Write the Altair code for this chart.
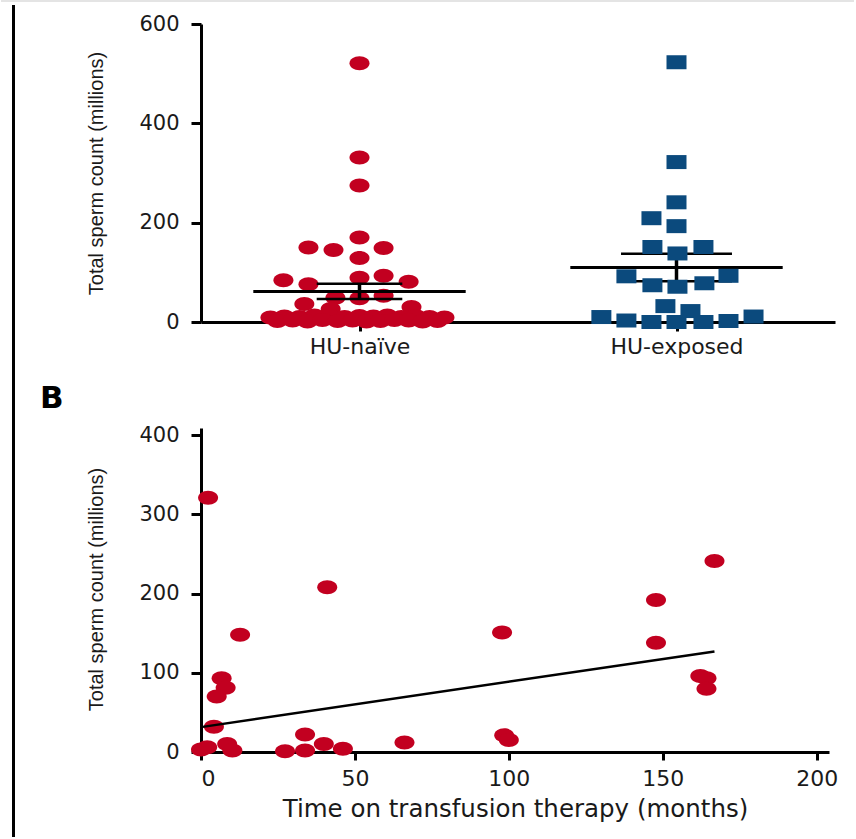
import altair as alt
import pandas as pd

# ---------------- data ----------------
groups = ["HU-naïve", "HU-exposed"]

naive_values = [521, 331, 275, 170,
                150, 145, 149, 129,
                84, 76, 89, 93, 81,
                49, 48, 53,
                36, 26, 30,
                9, 11, 10, 13, 12, 10, 12, 11, 13, 10, 12, 10, 9,
                2, 3, 1, 4, 2, 3, 1, 2, 4, 3, 1, 2]
naive_jitter = [0.0, 0.0, 0.0, 0.0,
                -0.161, -0.082, 0.076, 0.0,
                -0.240, -0.161, 0.0, 0.076, 0.155,
                -0.076, 0.0, 0.076,
                -0.174, -0.091, 0.164,
                -0.281, -0.237, -0.189, -0.142, -0.095, -0.047, 0.0, 0.044, 0.088, 0.132, 0.177, 0.221, 0.268,
                -0.259, -0.211, -0.164, -0.117, -0.069, -0.022, 0.022, 0.066, 0.110, 0.155, 0.199, 0.246]

exposed_values = [523, 322, 241, 209, 193, 151, 151, 138, 92, 93, 74, 71, 78,
                  32, 22, 10, 3, 0, 0, 0, 2, 11]
exposed_jitter = [0.0, 0.0, 0.0, -0.079, 0.0, -0.076, 0.085, 0.003, -0.158, 0.164, -0.076, 0.003, 0.088,
                  -0.035, 0.044, -0.237, -0.158, -0.079, 0.0, 0.085, 0.164, 0.243]

months = [2.3, 41.0, 12.7, 6.7, 8.0, 5.1, 4.2, 33.8, 0.0, 2.0, 8.5, 10.2, 27.3, 33.8, 39.9, 46.1,
          66.1, 97.8, 98.5, 100.0, 147.8, 147.8, 166.8, 162.2, 164.2, 164.2]
counts_b = [321, 208, 148, 93, 81, 70, 32, 22, 3, 6, 10, 2, 1, 2, 10, 4,
            12, 151, 21, 15, 192, 138, 241, 96, 93, 80]

fit_months = [0.0, 166.8]
fit_counts = [31.4, 127.0]

# ---------------- tables ----------------
top_df = pd.DataFrame({
    "group": [groups[0]] * len(naive_values) + [groups[1]] * len(exposed_values),
    "pos": [1] * len(naive_values) + [2] * len(exposed_values),
    "jitter": naive_jitter + exposed_jitter,
    "value": naive_values + exposed_values,
})
bot_df = pd.DataFrame({"months": months, "count": counts_b})
fit_df = pd.DataFrame({"months": fit_months, "count": fit_counts})
one = pd.DataFrame({"k": [0]})

RED = "#C20020"
BLUE = "#0B4A7D"
TXT = "#1a1a1a"
ELLIPSE = "M-1,0C-1,-0.387,-0.552,-0.7,0,-0.7C0.552,-0.7,1,-0.387,1,0C1,0.387,0.552,0.7,0,0.7C-0.552,0.7,-1,0.387,-1,0Z"
RECT = "M-1,-0.7L1,-0.7L1,0.7L-1,0.7Z"
NUMFONT = "DejaVu Sans"
YTFONT = "Liberation Sans"

TOP_W, TOP_H = 634, 298
BOT_W, BOT_H = 628, 324

xtop = alt.X("x:Q", scale=alt.Scale(domain=[0.5, 2.5], nice=False, zero=False),
             axis=alt.Axis(values=[1, 2], title=None,
                           labelExpr=f"datum.value == 1 ? '{groups[0]}' : '{groups[1]}'",
                           labelFont=NUMFONT, labelFontSize=22, labelColor=TXT,
                           labelPadding=5, tickSize=9, tickWidth=3, tickColor="black",
                           domainWidth=3, domainColor="black", grid=False))
ytop = alt.Y("value:Q", scale=alt.Scale(domain=[0, 600], nice=False),
             axis=alt.Axis(values=[0, 200, 400, 600], title="Total sperm count (millions)",
                           labelFont=NUMFONT, labelFontSize=21, labelColor=TXT,
                           labelPadding=12, tickSize=10, tickWidth=3, tickColor="black",
                           domainWidth=3, domainColor="black", grid=False,
                           titleFont=YTFONT, titleFontSize=20, titleFontWeight="normal",
                           titleColor=TXT, titleX=-99, titleY=TOP_H / 2,
                           titleBaseline="alphabetic", titleAlign="center", titleAngle=270))

base = alt.Chart(top_df).transform_calculate(x="datum.pos + datum.jitter")

naive_pts = base.transform_filter("datum.pos == 1").mark_point(
    shape=ELLIPSE, filled=True, size=400, color=RED, opacity=1, strokeWidth=0
).encode(x=xtop, y=ytop)
exposed_pts = base.transform_filter("datum.pos == 2").mark_point(
    shape=RECT, filled=True, size=400, color=BLUE, opacity=1, strokeWidth=0
).encode(x=xtop, y=ytop)

stats = (alt.Chart(top_df)
         .transform_aggregate(m="mean(value)", se="stderr(value)", groupby=["group", "pos"])
         .transform_calculate(lo="datum.m - datum.se")
         .transform_calculate(hi="datum.m + datum.se")
         .transform_calculate(mx1="datum.pos - 0.335")
         .transform_calculate(mx2="datum.pos + 0.335")
         .transform_calculate(cw="datum.pos == 1 ? 0.135 : 0.175")
         .transform_calculate(cx1="datum.pos - datum.cw")
         .transform_calculate(cx2="datum.pos + datum.cw"))


def err_layers(p):
    s = stats.transform_filter(f"datum.pos == {p}")
    mean_line = s.mark_rule(color="black", strokeWidth=3).encode(
        x=alt.X("mx1:Q"), x2="mx2:Q", y=alt.Y("m:Q"))
    cap_hi = s.mark_rule(color="black", strokeWidth=2.5).encode(
        x=alt.X("cx1:Q"), x2="cx2:Q", y=alt.Y("hi:Q"))
    cap_lo = s.mark_rule(color="black", strokeWidth=2.5).encode(
        x=alt.X("cx1:Q"), x2="cx2:Q", y=alt.Y("lo:Q"))
    vert = s.mark_rule(color="black", strokeWidth=3.5).encode(
        x=alt.X("pos:Q"), y=alt.Y("lo:Q"), y2="hi:Q")
    return [mean_line, cap_hi, cap_lo, vert]


deco_left = alt.Chart(one).mark_rule(color="black", strokeWidth=3).encode(
    x=alt.value(-187.5), y=alt.value(-19), y2=alt.value(813))
deco_top = alt.Chart(one).mark_rule(color="#e4e4e4", strokeWidth=2).encode(
    x=alt.value(-200), x2=alt.value(653), y=alt.value(-23))

top = alt.layer(deco_top, deco_left, *err_layers(2), naive_pts, exposed_pts, *err_layers(1)).properties(
    width=TOP_W, height=TOP_H)

# ---------------- bottom panel ----------------
xb = alt.X("months:Q", scale=alt.Scale(domain=[0, 204], nice=False),
           axis=alt.Axis(values=[0, 50, 100, 150, 200], title="Time on transfusion therapy (months)",
                         labelFont=NUMFONT, labelFontSize=22, labelColor=TXT,
                         labelPadding=8, tickSize=8, tickWidth=3, tickColor="black",
                         domainWidth=3, domainColor="black", grid=False,
                         titleFont=NUMFONT, titleFontSize=24.5, titleFontWeight="normal",
                         titleColor=TXT, titleY=64, titleBaseline="alphabetic"))
yb = alt.Y("count:Q", scale=alt.Scale(domain=[0, 409], nice=False),
           axis=alt.Axis(values=[0, 100, 200, 300, 400], title="Total sperm count (millions)",
                         labelFont=NUMFONT, labelFontSize=21, labelColor=TXT,
                         labelPadding=12, tickSize=10, tickWidth=3, tickColor="black",
                         domainWidth=3, domainColor="black", grid=False,
                         titleFont=YTFONT, titleFontSize=20, titleFontWeight="normal",
                         titleColor=TXT, titleX=-99, titleY=161,
                         titleBaseline="alphabetic", titleAlign="center", titleAngle=270))

bpts = alt.Chart(bot_df).mark_point(
    shape=ELLIPSE, filled=True, size=400, color=RED, opacity=1, strokeWidth=0
).encode(x=xb, y=yb)
bfit = alt.Chart(fit_df).mark_line(color="black", strokeWidth=2.5).encode(
    x=alt.X("months:Q"), y=alt.Y("count:Q"))
blabel = alt.Chart(pd.DataFrame({"label": ["B"]})).mark_text(
    font="DejaVu Sans", fontSize=31, fontWeight="bold", color="black", align="left",
    baseline="alphabetic").encode(text="label:N", x=alt.value(-161), y=alt.value(-20))

bottom = alt.layer(bpts, bfit, blabel).properties(width=BOT_W, height=BOT_H)

chart = alt.vconcat(top, bottom, spacing=106, bounds="flush").properties(
    padding={"left": 0, "top": 0, "right": 0, "bottom": 0}
).configure_view(stroke=None)

chart.save("out.html", embed_options={"renderer": "svg", "actions": False})
